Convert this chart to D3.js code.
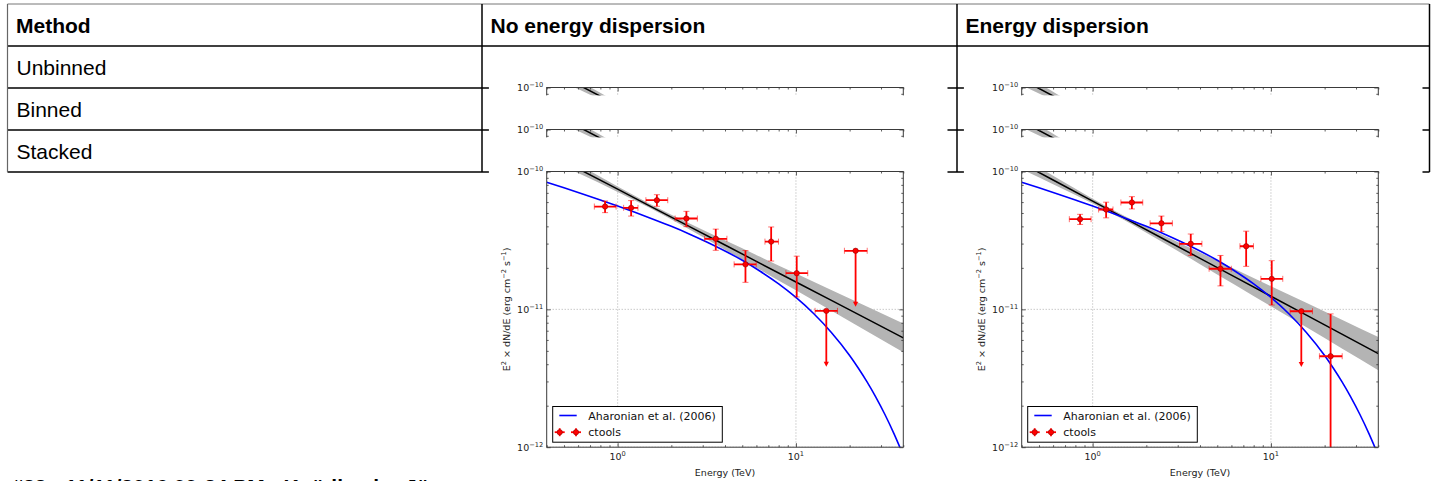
<!DOCTYPE html>
<html>
<head>
<meta charset="utf-8">
<script src="https://cdn.jsdelivr.net/npm/d3@7"></script>
<style>
  html, body { margin: 0; padding: 0; background: #fff; }
  svg { display: block; }
</style>
</head>
<body>
<svg id="page" width="1437" height="481"></svg>
<script>
// ---- table content ----
const headerLabels = ["Method", "No energy dispersion", "Energy dispersion"];
const methods = ["Unbinned", "Binned", "Stacked"];
const footerText = "#33 - 11/11/2016 09:24 PM - Knödlseder Jürgen";

// ---- spectral points (shared energy bins, TeV) ----
const binE    = [0.85, 1.19, 1.66, 2.43, 3.55, 5.21, 7.26, 10.1, 14.8, 21.6];
const binEmin = [0.74, 1.08, 1.44, 2.10, 3.07, 4.50, 6.70, 8.78, 12.8, 18.7];
const binEmax = [0.98, 1.30, 1.91, 2.80, 4.10, 5.99, 7.98, 11.65, 17.1, 25.1];

// E^2 dN/dE (erg cm^-2 s^-1), without energy dispersion
const fluxNoEdisp = [5.57e-11, 5.45e-11, 6.19e-11, 4.56e-11, 3.25e-11, 2.12e-11, 3.10e-11, 1.83e-11, 9.75e-12, 2.66e-11];
const errNoEdisp  = [0.54e-11, 0.70e-11, 0.60e-11, 0.58e-11, 0.57e-11, 0.55e-11, 0.86e-11, 0.60e-11, 0, 0];
const ulNoEdisp   = [false, false, false, false, false, false, false, false, true, true];

// E^2 dN/dE (erg cm^-2 s^-1), with energy dispersion
const fluxEdisp = [4.51e-11, 5.30e-11, 5.96e-11, 4.21e-11, 2.99e-11, 1.97e-11, 2.87e-11, 1.665e-11, 9.69e-12, 4.57e-12];
const errEdisp  = [0.38e-11, 0.69e-11, 0.61e-11, 0.54e-11, 0.53e-11, 0.49e-11, 0.82e-11, 0.59e-11, 0, 4.70e-12];
const ulEdisp   = [false, false, false, false, false, false, false, false, true, false];

// upper limits are drawn down to this fraction of the limit value
const ulArrowFraction = 0.4;

// ---- reference spectrum, Aharonian et al. (2006) ----
const modelE    = [0.4, 0.5, 0.63, 0.8, 1, 1.26, 1.58, 2, 2.5, 3.16, 4, 5, 6.3, 8, 10, 12.6, 15.8, 20, 22.4, 25, 28, 31.6, 35.5, 40];
const modelFlux = [8.37e-11, 7.62e-11, 6.90e-11, 6.21e-11, 5.62e-11, 5.04e-11, 4.51e-11, 4.00e-11, 3.54e-11, 3.08e-11,
                   2.65e-11, 2.27e-11, 1.89e-11, 1.53e-11, 1.22e-11, 9.29e-12, 6.80e-12, 4.63e-12, 3.74e-12, 2.99e-12,
                   2.32e-12, 1.72e-12, 1.25e-12, 8.72e-13];

// ---- fitted power law with its confidence band ----
const fitE = [0.4, 0.6, 1, 1.5, 2.5, 4, 6.3, 10, 16, 25, 40];
const fitNoEdisp   = [1.378e-10, 1.049e-10, 7.44e-11, 5.66e-11, 4.02e-11, 2.93e-11, 2.157e-11, 1.580e-11, 1.151e-11, 8.53e-12, 6.21e-12];
const fitNoEdispHi = [1.525e-10, 1.130e-10, 7.78e-11, 5.86e-11, 4.23e-11, 3.17e-11, 2.405e-11, 1.819e-11, 1.370e-11, 1.047e-11, 7.89e-12];
const fitNoEdispLo = [1.245e-10, 9.74e-11, 7.11e-11, 5.47e-11, 3.82e-11, 2.71e-11, 1.935e-11, 1.373e-11, 9.67e-12, 6.95e-12, 4.89e-12];
const fitEdisp   = [1.148e-10, 8.68e-11, 6.10e-11, 4.61e-11, 3.24e-11, 2.344e-11, 1.713e-11, 1.245e-11, 9.01e-12, 6.62e-12, 4.78e-12];
const fitEdispHi = [1.270e-10, 9.32e-11, 6.35e-11, 4.78e-11, 3.45e-11, 2.583e-11, 1.955e-11, 1.473e-11, 1.106e-11, 8.42e-12, 6.31e-12];
const fitEdispLo = [1.038e-10, 8.08e-11, 5.86e-11, 4.45e-11, 3.04e-11, 2.127e-11, 1.501e-11, 1.052e-11, 7.34e-12, 5.20e-12, 3.62e-12];

// ---- axes ----
const energyDomain = [0.4, 40];
const fluxDomain = [1e-12, 1e-10];
const xMajorTicks = [1, 10];
const xMajorExp = ["0", "1"];
const xMinorTicks = [0.4, 0.5, 0.6, 0.7, 0.8, 0.9, 2, 3, 4, 5, 6, 7, 8, 9, 20, 30, 40];
const yMajorTicks = [1e-12, 1e-11, 1e-10];
const yMajorExp = ["\u221212", "\u221211", "\u221210"];
const yMinorTicks = [2e-12, 3e-12, 4e-12, 5e-12, 6e-12, 7e-12, 8e-12, 9e-12,
                     2e-11, 3e-11, 4e-11, 5e-11, 6e-11, 7e-11, 8e-11, 9e-11];
const legendLabels = ["Aharonian et al. (2006)", "ctools"];

const datasets = [
  { flux: fluxNoEdisp, err: errNoEdisp, ul: ulNoEdisp, fit: fitNoEdisp, hi: fitNoEdispHi, lo: fitNoEdispLo },
  { flux: fluxEdisp,   err: errEdisp,   ul: ulEdisp,   fit: fitEdisp,   hi: fitEdispHi,   lo: fitEdispLo }
];

// ---------------------------------------------------------------
const svg = d3.select("#page");
svg.append("rect").attr("width", 1437).attr("height", 481).attr("fill", "#fff");

const colEdges = [7.5, 482, 957, 1429.5];
const rowEdges = [4, 46, 88, 130, 172];
const tableFont = "'Liberation Sans', Arial, Helvetica, sans-serif";
const plotFont = "'DejaVu Sans', sans-serif";

// table rules
const rules = svg.append("g");
rowEdges.forEach((y, i) => {
  rules.append("line").attr("x1", colEdges[0]).attr("x2", colEdges[3]).attr("y1", y).attr("y2", y)
    .attr("stroke", i === 0 ? "#777" : "#000").attr("stroke-width", i === 0 ? 1 : 1.5);
});
colEdges.forEach((x, i) => {
  rules.append("line").attr("x1", x).attr("x2", x).attr("y1", rowEdges[0]).attr("y2", rowEdges[4])
    .attr("stroke", i === 0 ? "#666" : "#000").attr("stroke-width", i === 0 ? 1.2 : 1.5);
});

// header labels
headerLabels.forEach((t, i) => {
  svg.append("text").attr("x", colEdges[i] + 8.5).attr("y", (rowEdges[0] + rowEdges[1]) / 2 + 7.8)
    .attr("font-family", tableFont).attr("font-weight", "bold").attr("font-size", 21)
    .attr("fill", "#000").text(t);
});

// ---------------------------------------------------------------
const pw = 356.6, ph = 275.7;
const imgLeft = -58, imgTop = -34, imgWidth = 459;
let clipId = 0;

function supText(sel, base, exp, size) {
  sel.append("tspan").text(base);
  sel.append("tspan").attr("dy", -size * 0.42).attr("font-size", size * 0.7).text(exp);
}

// draws one spectrum; visBottom limits the part of the image that stays uncovered
function drawSpectrum(g, d, visBottom) {
  const shows = yy => yy <= visBottom;
  const x = d3.scaleLog().domain(energyDomain).range([0, pw]);
  const y = d3.scaleLog().domain(fluxDomain).range([ph, 0]);

  const vid = "vis" + (clipId++);
  g.append("clipPath").attr("id", vid).append("rect")
    .attr("x", imgLeft).attr("y", imgTop).attr("width", imgWidth).attr("height", visBottom - imgTop);
  const root = g.append("g").attr("clip-path", `url(#${vid})`);
  root.append("rect").attr("x", imgLeft).attr("y", imgTop).attr("width", imgWidth)
    .attr("height", visBottom - imgTop).attr("fill", "#fff");

  const cid = "clip" + (clipId++);
  root.append("clipPath").attr("id", cid).append("rect").attr("width", pw).attr("height", ph);
  const inner = root.append("g").attr("clip-path", `url(#${cid})`);

  // dotted grid at major ticks
  const grid = inner.append("g").attr("stroke", "#8c8c8c").attr("stroke-width", 0.7).attr("stroke-dasharray", "1,2");
  xMajorTicks.forEach(v => grid.append("line").attr("x1", x(v)).attr("x2", x(v)).attr("y1", 0).attr("y2", ph));
  yMajorTicks.forEach(v => grid.append("line").attr("x1", 0).attr("x2", pw).attr("y1", y(v)).attr("y2", y(v)));

  // confidence band and fitted law
  const fitRows = fitE.map((e, i) => ({ e, f: d.fit[i], lo: d.lo[i], hi: d.hi[i] }));
  inner.append("path").datum(fitRows)
    .attr("d", d3.area().x(r => x(r.e)).y0(r => y(r.lo)).y1(r => y(r.hi)).curve(d3.curveMonotoneX))
    .attr("fill", "#b4b4b4").attr("stroke", "none");
  inner.append("path").datum(fitRows)
    .attr("d", d3.line().x(r => x(r.e)).y(r => y(r.f)))
    .attr("fill", "none").attr("stroke", "#000").attr("stroke-width", 1.5);

  // reference spectrum
  const modelRows = modelE.map((e, i) => ({ e, f: modelFlux[i] }));
  inner.append("path").datum(modelRows)
    .attr("d", d3.line().x(r => x(r.e)).y(r => y(r.f)).curve(d3.curveMonotoneX))
    .attr("fill", "none").attr("stroke", "#0000ff").attr("stroke-width", 1.6);

  // spectral points
  const pts = inner.append("g");
  const red = "#ff0000";
  binE.forEach((e, i) => {
    const f = d.flux[i];
    const cx = x(e), cy = y(f);
    const x0 = x(binEmin[i]), x1 = x(binEmax[i]);
    pts.append("line").attr("x1", x0).attr("x2", x1).attr("y1", cy).attr("y2", cy)
      .attr("stroke", red).attr("stroke-width", 1.8);
    [x0, x1].forEach(cxx => pts.append("line").attr("x1", cxx).attr("x2", cxx).attr("y1", cy - 3).attr("y2", cy + 3)
      .attr("stroke", red).attr("stroke-width", 1).attr("opacity", 0.55));
    if (d.ul[i]) {
      const yb = y(f * ulArrowFraction);
      pts.append("line").attr("x1", cx).attr("x2", cx).attr("y1", cy).attr("y2", yb - 3)
        .attr("stroke", red).attr("stroke-width", 1.8);
      pts.append("path").attr("d", `M${cx - 2.6},${yb - 4}L${cx + 2.6},${yb - 4}L${cx},${yb + 1}Z`).attr("fill", red);
    } else {
      const yt = y(f + d.err[i]);
      const low = f - d.err[i];
      const yb = low > 0 ? y(low) : ph + 20;
      pts.append("line").attr("x1", cx).attr("x2", cx).attr("y1", yt).attr("y2", yb)
        .attr("stroke", red).attr("stroke-width", 1.8);
      [yt, yb].forEach(cyy => pts.append("line").attr("x1", cx - 3).attr("x2", cx + 3).attr("y1", cyy).attr("y2", cyy)
        .attr("stroke", red).attr("stroke-width", 1).attr("opacity", 0.55));
    }
    pts.append("circle").attr("cx", cx).attr("cy", cy).attr("r", 2.7)
      .attr("fill", red).attr("stroke", "#7a0000").attr("stroke-width", 0.5);
  });

  // ticks on all four sides, pointing inwards
  const axes = [
    [d3.axisBottom(x), `translate(0,${ph})`, xMajorTicks, xMinorTicks],
    [d3.axisTop(x), "translate(0,0)", xMajorTicks, xMinorTicks],
    [d3.axisLeft(y), "translate(0,0)", yMajorTicks, yMinorTicks],
    [d3.axisRight(y), `translate(${pw},0)`, yMajorTicks, yMinorTicks]
  ];
  axes.forEach(([ax, tr, major, minor]) => {
    [[major, 4], [minor, 2]].forEach(([vals, len]) => {
      const a = root.append("g").attr("transform", tr)
        .call(ax.tickValues(vals).tickSize(-len).tickFormat(""));
      a.select(".domain").remove();
      a.selectAll("line").attr("stroke", "#333").attr("stroke-width", 0.8);
    });
  });

  root.append("rect").attr("width", pw).attr("height", ph).attr("fill", "none")
    .attr("stroke", "#3a3a3a").attr("stroke-width", 1);

  // tick labels
  const fs = 9.5;
  xMajorTicks.forEach((v, i) => {
    if (!shows(ph + 4)) return;
    const t = root.append("text").attr("x", x(v)).attr("y", ph + 13).attr("text-anchor", "middle")
      .attr("font-family", plotFont).attr("font-size", fs).attr("fill", "#222");
    supText(t, "10", xMajorExp[i], fs);
  });
  yMajorTicks.forEach((v, i) => {
    if (!shows(y(v) - 4)) return;
    const t = root.append("text").attr("x", -3.5).attr("y", y(v) + 3.4).attr("text-anchor", "end")
      .attr("font-family", plotFont).attr("font-size", fs).attr("fill", "#222");
    supText(t, "10", yMajorExp[i], fs);
  });

  if (!shows(ph)) return;

  // axis titles
  root.append("text").attr("x", pw / 2).attr("y", ph + 28.5).attr("text-anchor", "middle")
    .attr("font-family", plotFont).attr("font-size", fs).attr("fill", "#222").text("Energy (TeV)");
  const yl = root.append("text").attr("transform", `translate(-36.5,${ph / 2}) rotate(-90)`)
    .attr("text-anchor", "middle").attr("font-family", plotFont).attr("font-size", fs).attr("fill", "#222");
  yl.append("tspan").text("E");
  yl.append("tspan").attr("dy", -3.8).attr("font-size", fs * 0.7).text("2");
  yl.append("tspan").attr("dy", 3.8).text(" \u00d7 dN/dE (erg cm");
  yl.append("tspan").attr("dy", -3.8).attr("font-size", fs * 0.7).text("\u22122");
  yl.append("tspan").attr("dy", 3.8).text(" s");
  yl.append("tspan").attr("dy", -3.8).attr("font-size", fs * 0.7).text("\u22121");
  yl.append("tspan").attr("dy", 3.8).text(")");

  // legend
  const lg = root.append("g").attr("transform", `translate(6,${ph - 40.7})`);
  lg.append("rect").attr("width", 169.6).attr("height", 35.7).attr("fill", "#fff")
    .attr("stroke", "#000").attr("stroke-width", 1);
  lg.append("line").attr("x1", 6.6).attr("x2", 24).attr("y1", 9).attr("y2", 9)
    .attr("stroke", "#0000ff").attr("stroke-width", 1.6);
  [7, 23.3].forEach(mx => {
    lg.append("line").attr("x1", mx - 5).attr("x2", mx + 5).attr("y1", 25.7).attr("y2", 25.7)
      .attr("stroke", red).attr("stroke-width", 1.8);
    lg.append("line").attr("x1", mx).attr("x2", mx).attr("y1", 21.7).attr("y2", 29.7)
      .attr("stroke", red).attr("stroke-width", 1.8);
    lg.append("circle").attr("cx", mx).attr("cy", 25.7).attr("r", 2.7)
      .attr("fill", red).attr("stroke", "#7a0000").attr("stroke-width", 0.5);
  });
  legendLabels.forEach((t, i) => {
    lg.append("text").attr("x", 35.6).attr("y", 13 + i * 16.7)
      .attr("font-family", plotFont).attr("font-size", 11).attr("fill", "#111").text(t);
  });
}

// one spectrum image per table cell; each later row sits on top of the previous one
datasets.forEach((d, c) => {
  methods.forEach((m, r) => {
    const plotLeft = colEdges[c + 1] + 64.7;
    const plotTop = rowEdges[r + 1] + 41.5;
    const g = svg.append("g").attr("transform", `translate(${plotLeft},${plotTop})`);
    const last = r === methods.length - 1;
    const visBottom = last ? 481 - plotTop : (rowEdges[r + 2] + 41.5 + imgTop) - plotTop;
    drawSpectrum(g, d, visBottom);
  });
});

methods.forEach((m, r) => {
  svg.append("text").attr("x", colEdges[0] + 9).attr("y", (rowEdges[r + 1] + rowEdges[r + 2]) / 2 + 7.8)
    .attr("font-family", tableFont).attr("font-size", 21).attr("fill", "#000").text(m);
});

svg.append("text").attr("x", 11.5).attr("y", 494)
  .attr("font-family", tableFont).attr("font-weight", "bold").attr("font-size", 21)
  .attr("fill", "#000").text(footerText);
</script>
</body>
</html>
